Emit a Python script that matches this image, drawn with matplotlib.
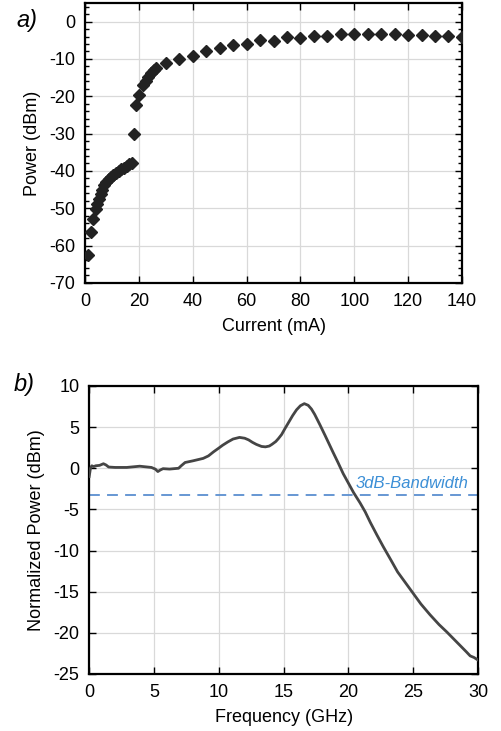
import matplotlib
matplotlib.use("Agg")
import matplotlib.pyplot as plt
from matplotlib.ticker import MultipleLocator

plt.rcParams['font.family'] = ['Liberation Sans', 'DejaVu Sans']
plt.rcParams['axes.unicode_minus'] = False

# ---- Panel a) data ----
current_mA = [1, 2, 3, 4, 4.5, 5, 5.7, 6.4, 7.1, 7.9, 8.7, 9.6, 10.5, 11.5, 12.5, 13.5,
              14.5, 15.4, 16.4, 17.3, 18, 19, 20, 21.5, 22.5, 23.5, 24.5, 25.5, 26.2,
              30, 35, 40, 45, 50, 55, 60, 65, 70, 75, 80, 85, 90, 95, 100, 105, 110,
              115, 120, 125, 130, 135, 140]
power_dBm = [-62.6, -56.3, -52.8, -50.2, -48.8, -47.5, -46.3, -45.0, -43.9, -43.0, -42.3,
             -41.7, -41.2, -40.6, -40.1, -39.6, -39.1, -38.7, -38.2, -37.9, -30.0, -22.3,
             -19.7, -17.0, -15.8, -14.8, -13.9, -13.1, -12.5, -11.0, -9.9, -9.1, -8.0,
             -7.1, -6.2, -6.1, -4.9, -5.1, -4.1, -4.4, -3.9, -3.9, -3.4, -3.2, -3.2,
             -3.2, -3.2, -3.6, -3.6, -3.9, -3.8, -4.1]

# ---- Panel b) data ----
freq_GHz = [0.0, 0.05, 0.1, 0.2, 0.35, 0.5, 0.8, 1.1, 1.3, 1.5, 2.0, 2.9, 3.9, 4.8, 5.1,
            5.3, 5.5, 5.7, 6.2, 6.9, 7.1, 7.4, 8.0, 8.8, 9.2, 9.6, 10.0, 10.3, 10.7,
            11.1, 11.6, 12.0, 12.3, 12.6, 12.9, 13.3, 13.6, 13.9, 14.1, 14.4, 14.6,
            14.85, 15.1, 15.4, 15.7, 16.0, 16.3, 16.6, 16.9, 17.15, 17.4, 17.8, 18.2,
            18.5, 18.8, 19.2, 19.6, 20.0, 20.4, 20.9, 21.3, 21.7, 22.2, 22.7, 23.3,
            23.8, 24.4, 25.0, 25.6, 26.3, 27.0, 27.6, 28.1, 28.6, 29.1, 29.4, 29.7, 30.0]
norm_power_dBm = [-1.0, -0.5, 0.0, 0.3, 0.2, 0.3, 0.35, 0.55, 0.4, 0.15, 0.1, 0.1, 0.25,
                  0.1, -0.1, -0.4, -0.2, -0.05, -0.1, 0.0, 0.3, 0.7, 0.9, 1.2, 1.5, 2.0,
                  2.45, 2.8, 3.2, 3.55, 3.75, 3.65, 3.45, 3.15, 2.9, 2.65, 2.6, 2.7, 2.9,
                  3.25, 3.6, 4.1, 4.8, 5.6, 6.4, 7.1, 7.6, 7.85, 7.65, 7.2, 6.55, 5.3,
                  4.0, 3.0, 2.0, 0.7, -0.65, -1.8, -2.95, -4.2, -5.3, -6.6, -8.1, -9.55,
                  -11.2, -12.6, -13.9, -15.2, -16.5, -17.8, -19.0, -19.9, -20.7, -21.5,
                  -22.3, -22.8, -23.0, -23.3]
bw_level = -3.25

fig = plt.figure(figsize=(5.01, 7.31), dpi=100)

grid_kw = dict(color='#d9d9d9', linewidth=0.9)
tick_fs = 13
label_fs = 13

# Panel a
ax1 = fig.add_axes([0.170, 0.613, 0.752, 0.383])
ax1.plot(current_mA, power_dBm, linestyle='none', marker='D', markersize=6.5,
         color='#222222', zorder=3)
ax1.set_xlim(0, 140)
ax1.set_ylim(-70, 5)
ax1.xaxis.set_major_locator(MultipleLocator(20))
ax1.yaxis.set_major_locator(MultipleLocator(10))
ax1.yaxis.set_minor_locator(MultipleLocator(2))
ax1.grid(True, which='major', **grid_kw)
ax1.set_axisbelow(True)
ax1.tick_params(which='both', direction='in', top=True, right=True, labelsize=tick_fs,
                width=1.0, pad=7)
ax1.tick_params(which='major', length=5)
ax1.tick_params(which='minor', length=3)
ax1.set_xlabel('Current (mA)', fontsize=label_fs, labelpad=6)
ax1.set_ylabel('Power (dBm)', fontsize=label_fs, labelpad=6)
for s in ax1.spines.values():
    s.set_linewidth(1.6)
fig.text(0.033, 0.972, 'a)', fontsize=17, fontstyle='italic', ha='left', va='center')

# Panel b
ax2 = fig.add_axes([0.178, 0.078, 0.776, 0.394])
ax2.plot(freq_GHz, norm_power_dBm, color='#454545', linewidth=2.0, zorder=3)
ax2.axhline(bw_level, color='#5b8fd0', linestyle=(0, (6, 4)), linewidth=1.3, zorder=2)
ax2.text(29.3, bw_level + 0.5, '3dB-Bandwidth', color='#3c8fd6', fontstyle='italic',
         fontsize=12, ha='right', va='bottom')
ax2.set_xlim(0, 30)
ax2.set_ylim(-25, 10)
ax2.xaxis.set_major_locator(MultipleLocator(5))
ax2.yaxis.set_major_locator(MultipleLocator(5))
ax2.grid(True, which='major', **grid_kw)
ax2.set_axisbelow(True)
ax2.tick_params(which='both', direction='in', top=True, right=True, labelsize=tick_fs,
                length=5, width=1.0, pad=7)
ax2.set_xlabel('Frequency (GHz)', fontsize=label_fs, labelpad=6)
ax2.set_ylabel('Normalized Power (dBm)', fontsize=label_fs, labelpad=6)
for s in ax2.spines.values():
    s.set_linewidth(1.6)
fig.text(0.027, 0.474, 'b)', fontsize=17, fontstyle='italic', ha='left', va='center')

fig.savefig('out.png', dpi=100)
